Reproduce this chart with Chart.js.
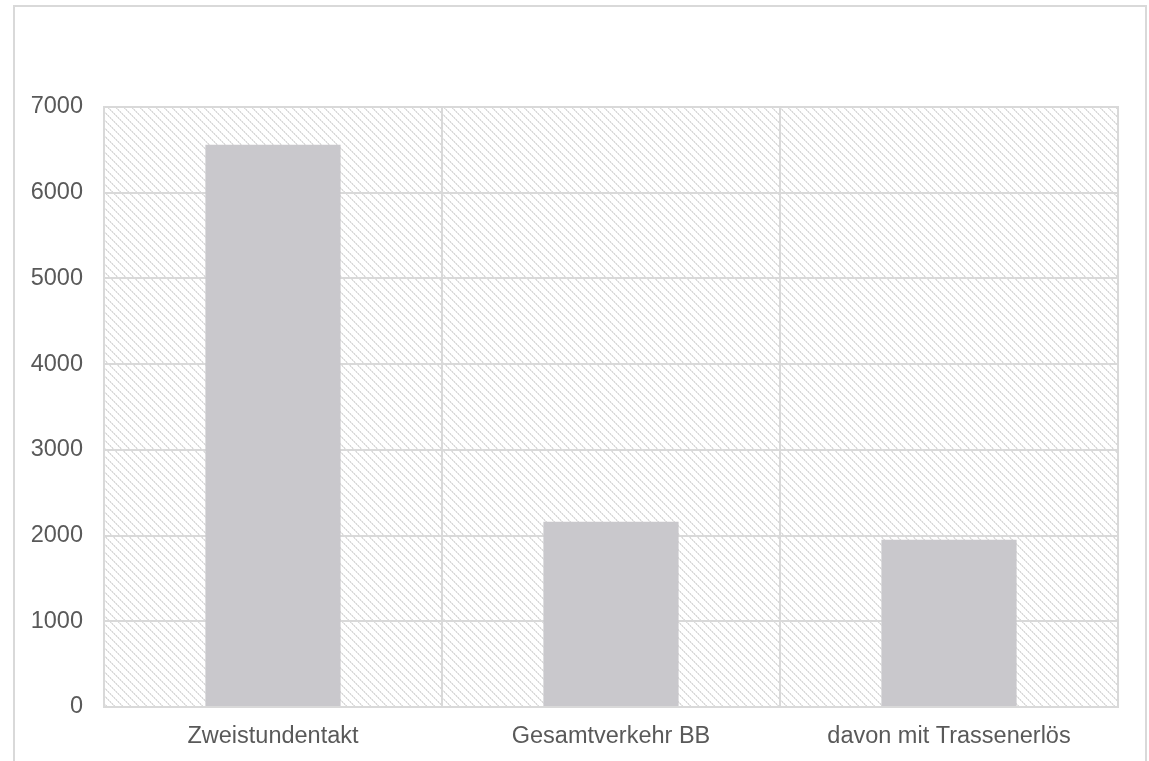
<!DOCTYPE html>
<html>
<head>
<meta charset="utf-8">
<script src="https://cdn.jsdelivr.net/npm/chart.js@4/dist/chart.umd.min.js"></script>
<style>
  html, body { margin: 0; padding: 0; background: #ffffff; }
  #wrap { position: relative; width: 1149px; height: 761px; }
  canvas { display: block; }
</style>
</head>
<body>
<div id="wrap"><canvas id="c" width="1149" height="761"></canvas></div>
<script>
const categories = ["Zweistundentakt", "Gesamtverkehr BB", "davon mit Trassenerlös"];
const values = [6560, 2160, 1950];
const yMin = 0;
const yMax = 7000;
const yStep = 1000;

const textColor = "#595959";
const gridColor = "#d9d9d9";
const barColor = "#c9c8cc";
const fontFamily = "'Liberation Sans', Arial, sans-serif";

function makeHatch() {
  const p = document.createElement("canvas");
  p.width = 8; p.height = 8;
  const g = p.getContext("2d");
  g.fillStyle = "#ffffff";
  g.fillRect(0, 0, 8, 8);
  for (let i = 0; i < 8; i++) {
    g.fillStyle = (i % 2 === 0) ? "#dadada" : "#e6e6e6";
    g.fillRect(i, i, 1, 1);
    g.fillStyle = (i % 2 === 0) ? "#ededed" : "#dadada";
    g.fillRect((i + 1) % 8, i, 1, 1);
  }
  return p;
}

const backgroundPlugin = {
  id: "bgPlugin",
  beforeDraw(chart) {
    const ctx = chart.ctx;
    const a = chart.chartArea;
    ctx.save();
    ctx.strokeStyle = gridColor;
    ctx.lineWidth = 2;
    ctx.strokeRect(14, 6, 1132, 820);
    const pat = ctx.createPattern(makeHatch(), "repeat");
    ctx.fillStyle = pat;
    ctx.fillRect(a.left, a.top, a.right - a.left, a.bottom - a.top);
    ctx.restore();
  },
  afterDatasetsDraw(chart) {
    const ctx = chart.ctx;
    const a = chart.chartArea;
    ctx.save();
    ctx.strokeStyle = gridColor;
    ctx.lineWidth = 2;
    ctx.strokeRect(a.left, a.top, a.right - a.left, a.bottom - a.top);
    ctx.restore();
  }
};

new Chart(document.getElementById("c"), {
  type: "bar",
  data: {
    labels: categories,
    datasets: [{
      data: values,
      backgroundColor: barColor,
      borderWidth: 0,
      barPercentage: 0.4,
      categoryPercentage: 1.0
    }]
  },
  options: {
    responsive: false,
    animation: false,
    devicePixelRatio: 1,
    layout: { padding: { top: 107, right: 31, left: 0, bottom: 0 } },
    plugins: {
      legend: { display: false },
      tooltip: { enabled: false },
      title: { display: false }
    },
    scales: {
      x: {
        grid: { color: gridColor, lineWidth: 2, drawTicks: false, offset: true },
        border: { display: false },
        ticks: {
          color: textColor,
          font: { family: fontFamily, size: 23.5 },
          padding: 15,
          maxRotation: 0
        },
        afterFit(scale) { scale.height = 54; }
      },
      y: {
        min: yMin,
        max: yMax,
        grid: { color: gridColor, lineWidth: 2, drawTicks: false },
        border: { display: false },
        ticks: {
          stepSize: yStep,
          color: textColor,
          font: { family: fontFamily, size: 23.5 },
          padding: 21,
          callback: (v) => String(v)
        },
        afterFit(scale) { scale.width = 104; }
      }
    }
  },
  plugins: [backgroundPlugin]
});
</script>
</body>
</html>
